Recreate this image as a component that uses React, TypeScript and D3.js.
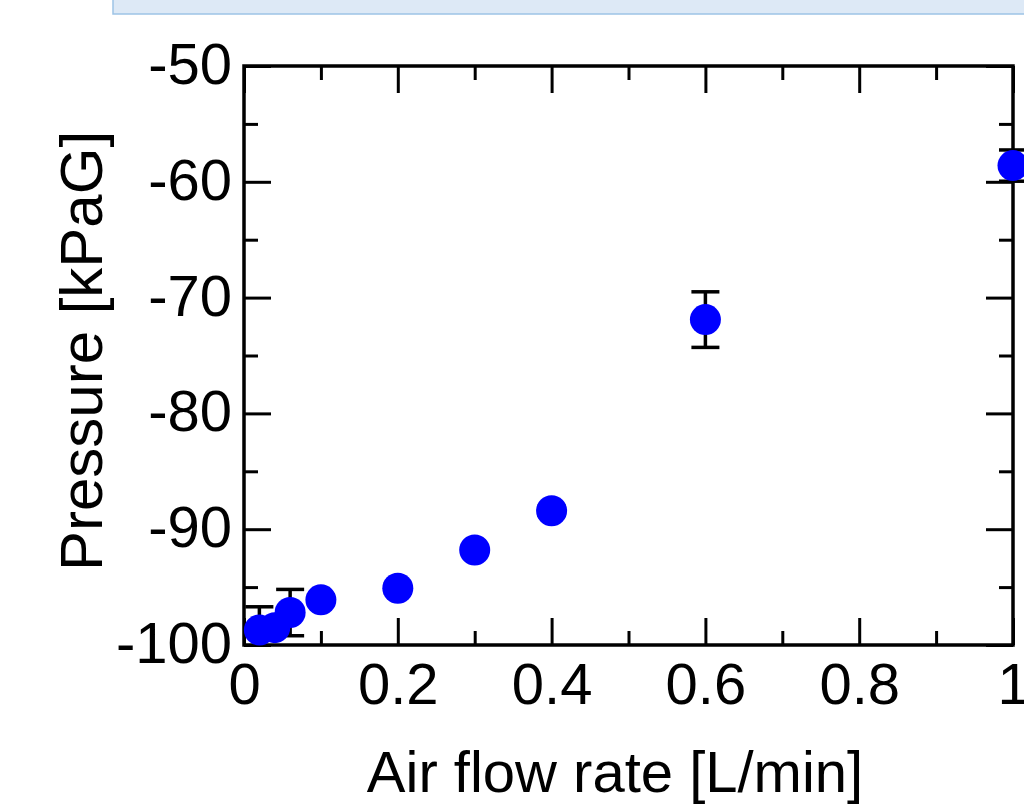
import { useRef, useEffect } from "react";
import * as d3 from "d3";

const flowRates = [0.02, 0.04, 0.06, 0.1, 0.2, 0.3, 0.4, 0.6, 1.0];
const pressures = [-98.7, -98.5, -97.2, -96.1, -95.1, -91.8, -88.4, -71.9, -58.6];
const errors = [2.0, 0.5, 2.0, 0.4, 0.4, 0.3, 0.4, 2.4, 1.35];

const xMajor = [0, 0.2, 0.4, 0.6, 0.8, 1];
const xMinor = [0.1, 0.3, 0.5, 0.7, 0.9];
const yMajor = [-100, -90, -80, -70, -60, -50];
const yMinor = [-95, -85, -75, -65, -55];

const xTitle = "Air flow rate [L/min]";
const yTitle = "Pressure [kPaG]";

function App() {
  const svgRef = useRef<SVGSVGElement>(null);

  useEffect(() => {
    const W = 1024;
    const H = 804;
    const left = 244, right = 1013, top = 66, bottom = 645;
    const font = "'Liberation Sans', Arial, sans-serif";

    const svg = d3.select(svgRef.current)
      .attr("width", W)
      .attr("height", H);
    svg.selectAll("*").remove();

    // box at the top
    svg.append("rect")
      .attr("x", 113).attr("y", -2)
      .attr("width", 940).attr("height", 16)
      .attr("fill", "#dde9f6")
      .attr("stroke", "#9dc3e6")
      .attr("stroke-width", 1.5);

    const x = d3.scaleLinear().domain([0, 1]).range([left, right]);
    const y = d3.scaleLinear().domain([-100, -50]).range([bottom, top]);

    const fmt = (d: any) => String(+(+d).toFixed(1));

    const styleAxis = (g: any) => {
      g.select(".domain").remove();
      g.selectAll(".tick line").attr("stroke", "#000").attr("stroke-width", 3);
      g.attr("font-family", font).attr("font-size", 58);
      g.selectAll("text").attr("fill", "#000");
    };

    // bottom
    svg.append("g").attr("transform", `translate(0,${bottom})`)
      .call(d3.axisBottom(x).tickValues(xMajor).tickSize(-27).tickPadding(18).tickFormat(fmt))
      .call(styleAxis)
      .selectAll("text").attr("dy", "0.71em");
    svg.append("g").attr("transform", `translate(0,${bottom})`)
      .call(d3.axisBottom(x).tickValues(xMinor).tickSize(-14).tickFormat(() => ""))
      .call(styleAxis);
    // top
    svg.append("g").attr("transform", `translate(0,${top})`)
      .call(d3.axisTop(x).tickValues(xMajor).tickSize(-27).tickFormat(() => ""))
      .call(styleAxis);
    svg.append("g").attr("transform", `translate(0,${top})`)
      .call(d3.axisTop(x).tickValues(xMinor).tickSize(-14).tickFormat(() => ""))
      .call(styleAxis);
    // left
    svg.append("g").attr("transform", `translate(${left},0)`)
      .call(d3.axisLeft(y).tickValues(yMajor).tickSize(-27).tickPadding(12).tickFormat(fmt))
      .call(styleAxis)
      .selectAll("text").attr("dy", "0.3em");
    svg.append("g").attr("transform", `translate(${left},0)`)
      .call(d3.axisLeft(y).tickValues(yMinor).tickSize(-14).tickFormat(() => ""))
      .call(styleAxis);
    // right
    svg.append("g").attr("transform", `translate(${right},0)`)
      .call(d3.axisRight(y).tickValues(yMajor).tickSize(-27).tickFormat(() => ""))
      .call(styleAxis);
    svg.append("g").attr("transform", `translate(${right},0)`)
      .call(d3.axisRight(y).tickValues(yMinor).tickSize(-14).tickFormat(() => ""))
      .call(styleAxis);

    // frame
    svg.append("rect")
      .attr("x", left).attr("y", top)
      .attr("width", right - left).attr("height", bottom - top)
      .attr("fill", "none")
      .attr("stroke", "#000")
      .attr("stroke-width", 3.5);

    const data = flowRates.map((f, i) => ({ f, p: pressures[i], e: errors[i] }));

    svg.append("clipPath").attr("id", "yclip")
      .append("rect").attr("x", 0).attr("y", top).attr("width", W).attr("height", bottom - top);

    const eb = svg.append("g").attr("clip-path", "url(#yclip)")
      .attr("stroke", "#000").attr("stroke-width", 3.5);
    eb.selectAll("line.v").data(data).enter().append("line")
      .attr("class", "v")
      .attr("x1", d => x(d.f)).attr("x2", d => x(d.f))
      .attr("y1", d => y(d.p - d.e)).attr("y2", d => y(d.p + d.e));
    eb.selectAll("line.t").data(data).enter().append("line")
      .attr("class", "t")
      .attr("x1", d => x(d.f) - 14).attr("x2", d => x(d.f) + 14)
      .attr("y1", d => y(d.p + d.e)).attr("y2", d => y(d.p + d.e));
    eb.selectAll("line.b").data(data).enter().append("line")
      .attr("class", "b")
      .attr("x1", d => x(d.f) - 14).attr("x2", d => x(d.f) + 14)
      .attr("y1", d => y(d.p - d.e)).attr("y2", d => y(d.p - d.e));

    svg.append("g").selectAll("circle").data(data).enter().append("circle")
      .attr("cx", d => x(d.f))
      .attr("cy", d => y(d.p))
      .attr("r", 15.5)
      .attr("fill", "#0000ff");

    svg.append("text")
      .attr("x", 615).attr("y", 792)
      .attr("text-anchor", "middle")
      .attr("font-family", font).attr("font-size", 58)
      .text(xTitle);

    svg.append("text")
      .attr("transform", `translate(102,351) rotate(-90)`)
      .attr("text-anchor", "middle")
      .attr("font-family", font).attr("font-size", 60)
      .text(yTitle);
  }, []);

  return (
    <div style={{ position: "absolute", left: 0, top: 0 }}>
      <svg ref={svgRef} style={{ display: "block", background: "#fff" }} />
    </div>
  );
}

export default App;
